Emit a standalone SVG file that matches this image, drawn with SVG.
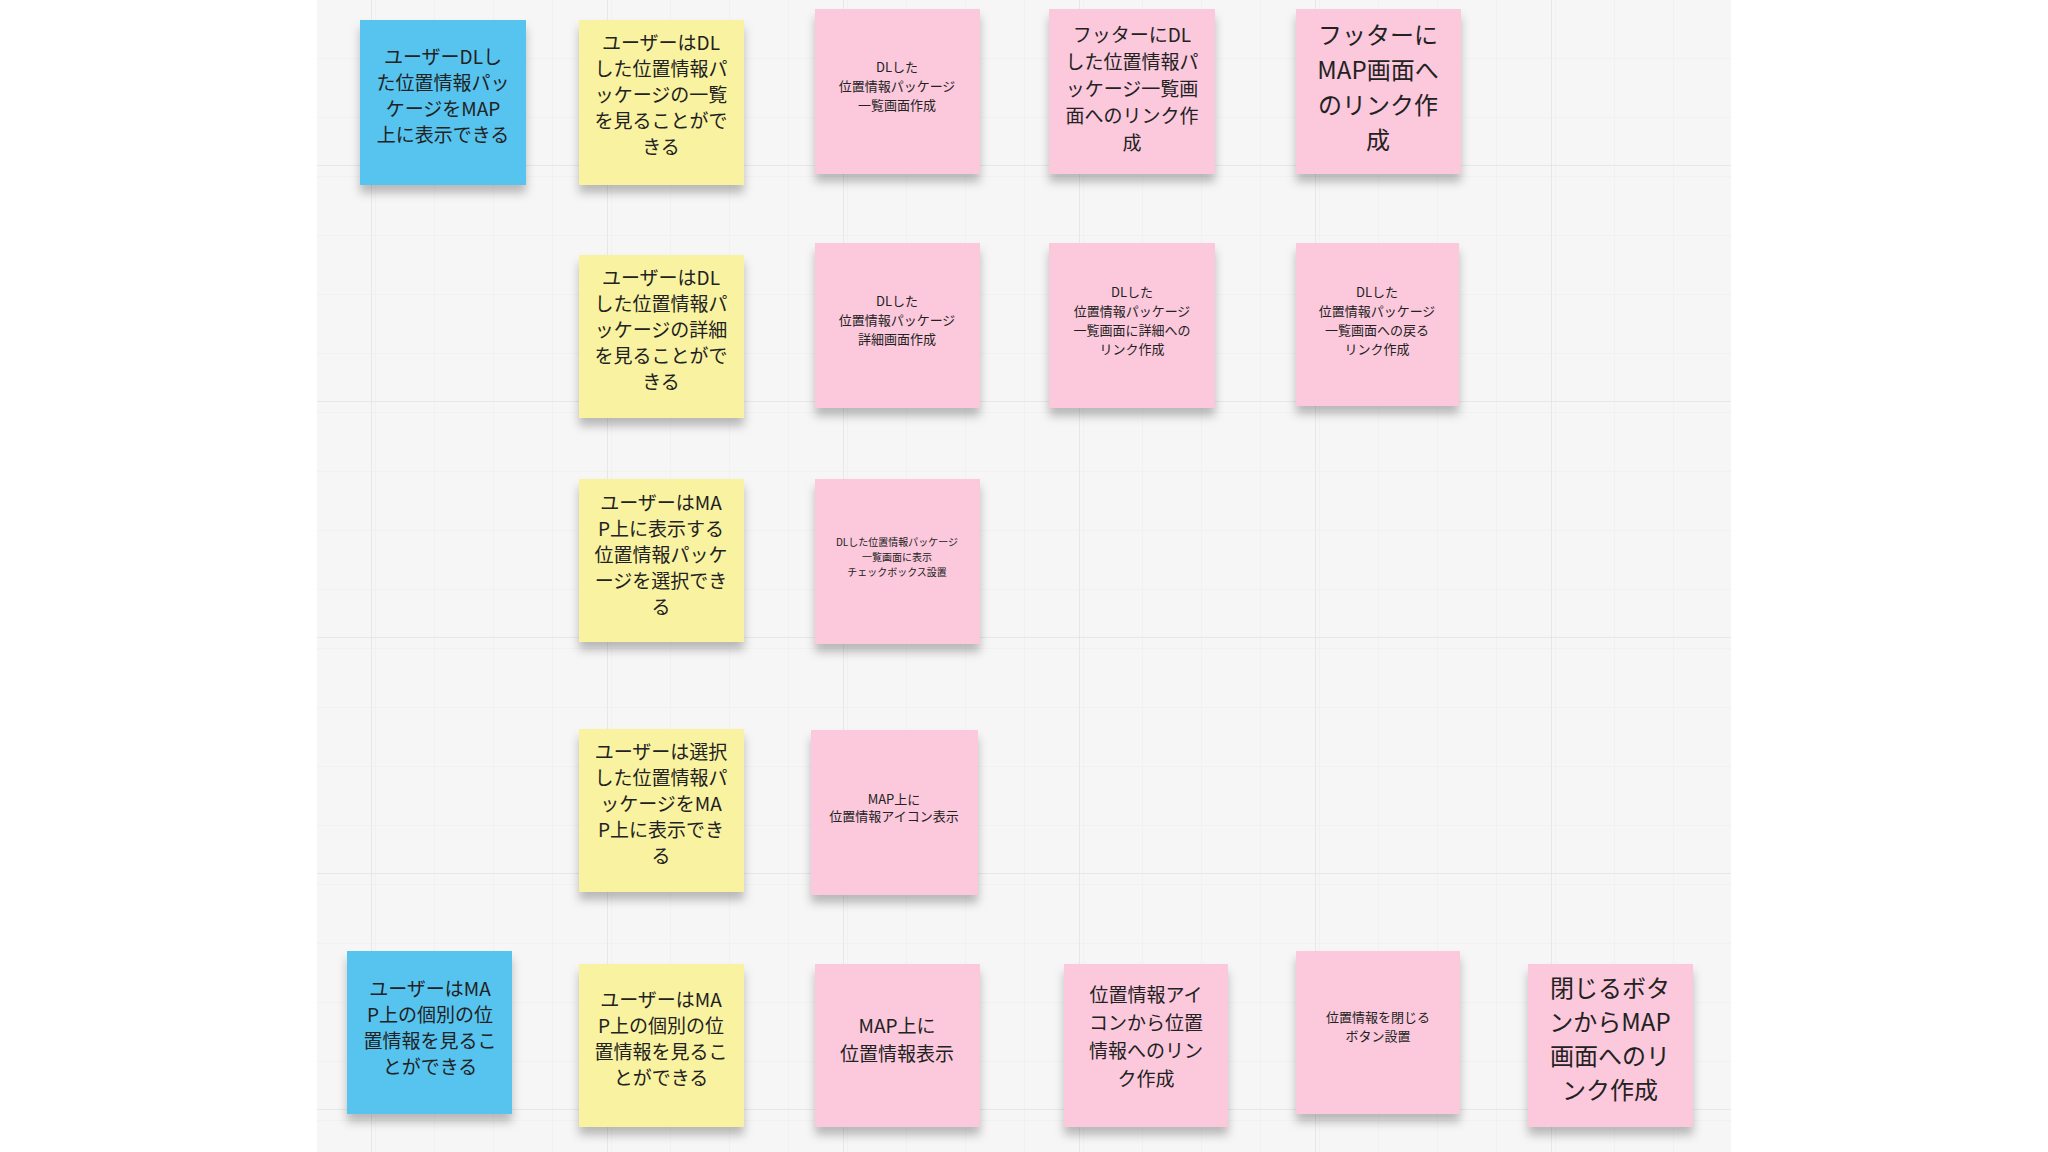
<svg xmlns="http://www.w3.org/2000/svg" width="2048" height="1152" viewBox="0 0 2048 1152">
<defs>
<pattern id="minor" x="317" y="0" width="59" height="59" patternUnits="userSpaceOnUse"><path d="M59 0V59H0" fill="none" stroke="#ececec" stroke-width="1"/></pattern>
<pattern id="major" x="372" y="-70" width="236" height="236" patternUnits="userSpaceOnUse"><path d="M236 0V236H0" fill="none" stroke="#e2e2e2" stroke-width="1.5"/></pattern>
<filter id="sh" x="-20%" y="-20%" width="140%" height="150%"><feDropShadow dx="0" dy="8" stdDeviation="5" flood-color="#000" flood-opacity="0.25"/></filter>
</defs>
<style>
.b{fill:#57c4ef}.y{fill:#f9f3a1}.p{fill:#fbc8dc}
text{font-family:"Noto Sans CJK JP","Noto Sans",sans-serif;fill:#222;text-anchor:middle}
.m{font-size:19px}.l{font-size:24px}.s{font-size:13px}.t{font-size:10px}
</style>
<rect width="2048" height="1152" fill="#fff"/>
<rect x="317" y="0" width="1414" height="1152" fill="#f6f6f6"/>
<rect x="317" y="0" width="1414" height="1152" fill="url(#minor)"/>
<rect x="317" y="0" width="1414" height="1152" fill="url(#major)"/>
<g id="n1"><rect class="b" x="360" y="20" width="166" height="165" filter="url(#sh)"/><text class="m" x="443" y="64">ユーザーDLし<tspan x="443" dy="26">た位置情報パッ</tspan><tspan x="443" dy="26">ケージをMAP</tspan><tspan x="443" dy="26">上に表示できる</tspan></text></g>
<g id="n2"><rect class="y" x="579" y="20" width="165" height="165" filter="url(#sh)"/><text class="m" x="661" y="50">ユーザーはDL<tspan x="661" dy="26">した位置情報パ</tspan><tspan x="661" dy="26">ッケージの一覧</tspan><tspan x="661" dy="26">を見ることがで</tspan><tspan x="661" dy="26">きる</tspan></text></g>
<g id="n3"><rect class="p" x="815" y="9" width="165" height="165" filter="url(#sh)"/><text class="s" x="897" y="72">DLした<tspan x="897" dy="19">位置情報パッケージ</tspan><tspan x="897" dy="19">一覧画面作成</tspan></text></g>
<g id="n4"><rect class="p" x="1049" y="9" width="166" height="165" filter="url(#sh)"/><text class="m" x="1132" y="42">フッターにDL<tspan x="1132" dy="27">した位置情報パ</tspan><tspan x="1132" dy="27">ッケージ一覧画</tspan><tspan x="1132" dy="27">面へのリンク作</tspan><tspan x="1132" dy="27">成</tspan></text></g>
<g id="n5"><rect class="p" x="1296" y="9" width="165" height="165" filter="url(#sh)"/><text class="l" x="1378" y="44">フッターに<tspan x="1378" dy="35">MAP画面へ</tspan><tspan x="1378" dy="35">のリンク作</tspan><tspan x="1378" dy="35">成</tspan></text></g>
<g id="n6"><rect class="y" x="579" y="255" width="165" height="163" filter="url(#sh)"/><text class="m" x="661" y="285">ユーザーはDL<tspan x="661" dy="26">した位置情報パ</tspan><tspan x="661" dy="26">ッケージの詳細</tspan><tspan x="661" dy="26">を見ることがで</tspan><tspan x="661" dy="26">きる</tspan></text></g>
<g id="n7"><rect class="p" x="815" y="243" width="165" height="165" filter="url(#sh)"/><text class="s" x="897" y="306">DLした<tspan x="897" dy="19">位置情報パッケージ</tspan><tspan x="897" dy="19">詳細画面作成</tspan></text></g>
<g id="n8"><rect class="p" x="1049" y="243" width="166" height="165" filter="url(#sh)"/><text class="s" x="1132" y="297">DLした<tspan x="1132" dy="19">位置情報パッケージ</tspan><tspan x="1132" dy="19">一覧画面に詳細への</tspan><tspan x="1132" dy="19">リンク作成</tspan></text></g>
<g id="n9"><rect class="p" x="1296" y="243" width="163" height="163" filter="url(#sh)"/><text class="s" x="1377" y="297">DLした<tspan x="1377" dy="19">位置情報パッケージ</tspan><tspan x="1377" dy="19">一覧画面への戻る</tspan><tspan x="1377" dy="19">リンク作成</tspan></text></g>
<g id="n10"><rect class="y" x="579" y="479" width="165" height="163" filter="url(#sh)"/><text class="m" x="661" y="510">ユーザーはMA<tspan x="661" dy="26">P上に表示する</tspan><tspan x="661" dy="26">位置情報パッケ</tspan><tspan x="661" dy="26">ージを選択でき</tspan><tspan x="661" dy="26">る</tspan></text></g>
<g id="n11"><rect class="p" x="815" y="479" width="165" height="165" filter="url(#sh)"/><text class="t" x="897" y="546">DLした位置情報パッケージ<tspan x="897" dy="15">一覧画面に表示</tspan><tspan x="897" dy="15">チェックボックス設置</tspan></text></g>
<g id="n12"><rect class="y" x="579" y="729" width="165" height="163" filter="url(#sh)"/><text class="m" x="661" y="759">ユーザーは選択<tspan x="661" dy="26">した位置情報パ</tspan><tspan x="661" dy="26">ッケージをMA</tspan><tspan x="661" dy="26">P上に表示でき</tspan><tspan x="661" dy="26">る</tspan></text></g>
<g id="n13"><rect class="p" x="811" y="730" width="167" height="165" filter="url(#sh)"/><text class="s" x="894" y="804">MAP上に<tspan x="894" dy="17">位置情報アイコン表示</tspan></text></g>
<g id="n14"><rect class="b" x="347" y="951" width="165" height="163" filter="url(#sh)"/><text class="m" x="430" y="996">ユーザーはMA<tspan x="430" dy="26">P上の個別の位</tspan><tspan x="430" dy="26">置情報を見るこ</tspan><tspan x="430" dy="26">とができる</tspan></text></g>
<g id="n15"><rect class="y" x="579" y="964" width="165" height="163" filter="url(#sh)"/><text class="m" x="661" y="1007">ユーザーはMA<tspan x="661" dy="26">P上の個別の位</tspan><tspan x="661" dy="26">置情報を見るこ</tspan><tspan x="661" dy="26">とができる</tspan></text></g>
<g id="n16"><rect class="p" x="815" y="964" width="165" height="163" filter="url(#sh)"/><text class="m" x="897" y="1033">MAP上に<tspan x="897" dy="28">位置情報表示</tspan></text></g>
<g id="n17"><rect class="p" x="1064" y="964" width="164" height="163" filter="url(#sh)"/><text class="m" x="1146" y="1002">位置情報アイ<tspan x="1146" dy="28">コンから位置</tspan><tspan x="1146" dy="28">情報へのリン</tspan><tspan x="1146" dy="28">ク作成</tspan></text></g>
<g id="n18"><rect class="p" x="1296" y="951" width="164" height="163" filter="url(#sh)"/><text class="s" x="1378" y="1022">位置情報を閉じる<tspan x="1378" dy="19">ボタン設置</tspan></text></g>
<g id="n19"><rect class="p" x="1528" y="964" width="165" height="163" filter="url(#sh)"/><text class="l" x="1610" y="997">閉じるボタ<tspan x="1610" dy="34">ンからMAP</tspan><tspan x="1610" dy="34">画面へのリ</tspan><tspan x="1610" dy="34">ンク作成</tspan></text></g>
<g id="connectors"/>
</svg>
